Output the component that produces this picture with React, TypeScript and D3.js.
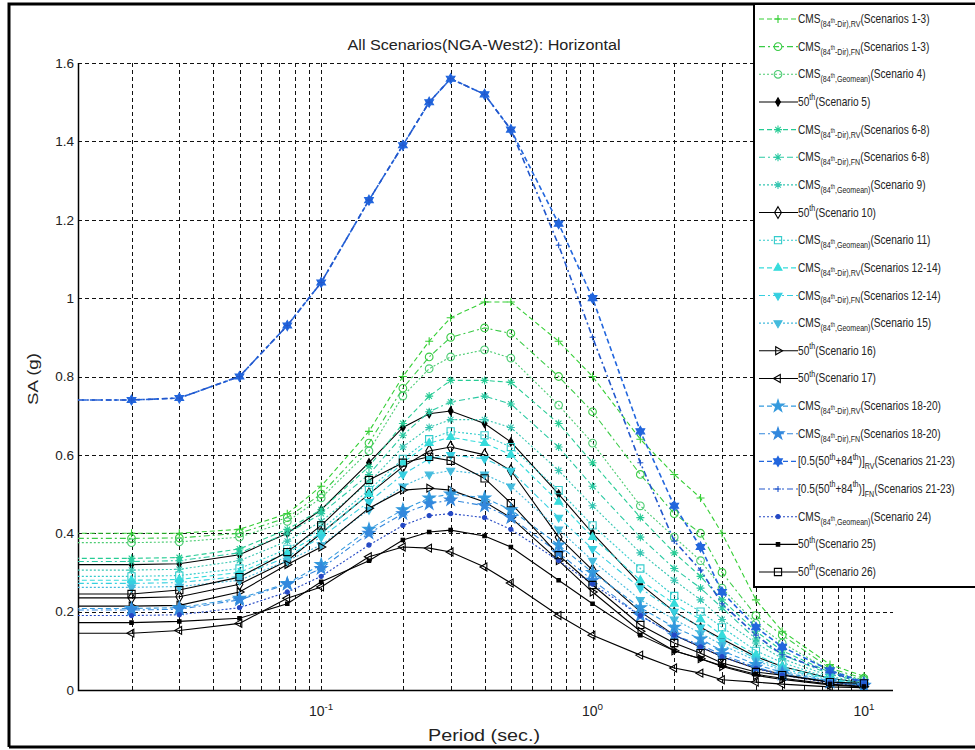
import React, { useEffect, useRef } from "react"
import * as d3 from "d3"

// spectral periods (sec.)
const periods = [0.01, 0.02, 0.03, 0.05, 0.075, 0.1, 0.15, 0.2, 0.25, 0.3, 0.4, 0.5, 0.75, 1, 1.5, 2, 2.5, 3, 4, 5, 7.5, 10]

// SA (g) per scenario
const cmsRv13 = [0.40, 0.40, 0.40, 0.41, 0.45, 0.52, 0.66, 0.80, 0.89, 0.95, 0.99, 0.99, 0.89, 0.80, 0.64, 0.55, 0.49, 0.40, 0.23, 0.15, 0.065, 0.035]
const cmsFn13 = [0.387, 0.387, 0.388, 0.40, 0.44, 0.50, 0.63, 0.77, 0.85, 0.90, 0.924, 0.91, 0.80, 0.71, 0.55, 0.45, 0.40, 0.30, 0.19, 0.14, 0.055, 0.03]
const cmsGeo4 = [0.376, 0.376, 0.378, 0.39, 0.43, 0.49, 0.61, 0.75, 0.82, 0.85, 0.868, 0.847, 0.727, 0.63, 0.47, 0.39, 0.33, 0.26, 0.17, 0.12, 0.05, 0.025]
const med5 = [0.32, 0.32, 0.322, 0.345, 0.40, 0.46, 0.58, 0.67, 0.705, 0.712, 0.68, 0.633, 0.50, 0.40, 0.27, 0.20, 0.16, 0.13, 0.085, 0.06, 0.03, 0.018]
const cmsRv68 = [0.336, 0.336, 0.338, 0.36, 0.41, 0.46, 0.57, 0.68, 0.75, 0.79, 0.79, 0.785, 0.68, 0.58, 0.44, 0.35, 0.29, 0.23, 0.15, 0.10, 0.045, 0.022]
const cmsFn68 = [0.328, 0.328, 0.33, 0.35, 0.40, 0.45, 0.55, 0.65, 0.71, 0.735, 0.75, 0.73, 0.62, 0.52, 0.39, 0.31, 0.26, 0.21, 0.13, 0.09, 0.04, 0.02]
const cmsGeo9 = [0.306, 0.306, 0.308, 0.33, 0.38, 0.43, 0.53, 0.62, 0.67, 0.69, 0.69, 0.67, 0.56, 0.47, 0.35, 0.28, 0.23, 0.18, 0.12, 0.08, 0.035, 0.018]
const med10 = [0.235, 0.235, 0.238, 0.27, 0.33, 0.40, 0.50, 0.57, 0.61, 0.62, 0.60, 0.56, 0.39, 0.306, 0.20, 0.14, 0.11, 0.085, 0.055, 0.04, 0.02, 0.012]
const cmsGeo11 = [0.29, 0.29, 0.292, 0.31, 0.36, 0.41, 0.51, 0.59, 0.64, 0.66, 0.65, 0.62, 0.51, 0.42, 0.31, 0.24, 0.20, 0.16, 0.10, 0.07, 0.03, 0.016]
const cmsRv1214 = [0.28, 0.28, 0.282, 0.30, 0.35, 0.40, 0.50, 0.58, 0.63, 0.645, 0.63, 0.60, 0.48, 0.39, 0.28, 0.22, 0.18, 0.14, 0.09, 0.06, 0.028, 0.015]
const cmsFn1214 = [0.272, 0.272, 0.274, 0.29, 0.34, 0.39, 0.48, 0.55, 0.59, 0.60, 0.59, 0.56, 0.44, 0.36, 0.26, 0.20, 0.16, 0.125, 0.08, 0.055, 0.025, 0.014]
const cmsGeo15 = [0.262, 0.262, 0.264, 0.28, 0.33, 0.37, 0.46, 0.52, 0.55, 0.56, 0.55, 0.52, 0.41, 0.33, 0.23, 0.18, 0.145, 0.115, 0.075, 0.05, 0.023, 0.013]
const med16 = [0.214, 0.214, 0.216, 0.25, 0.32, 0.365, 0.464, 0.51, 0.515, 0.51, 0.48, 0.44, 0.33, 0.25, 0.15, 0.10, 0.08, 0.06, 0.037, 0.027, 0.013, 0.008]
const med17 = [0.145, 0.145, 0.152, 0.17, 0.234, 0.263, 0.34, 0.365, 0.362, 0.352, 0.314, 0.273, 0.19, 0.14, 0.089, 0.056, 0.043, 0.026, 0.02, 0.015, 0.008, 0.006]
const cmsRv1820 = [0.208, 0.208, 0.21, 0.234, 0.272, 0.32, 0.41, 0.46, 0.49, 0.50, 0.49, 0.46, 0.37, 0.30, 0.21, 0.16, 0.13, 0.10, 0.065, 0.045, 0.022, 0.012]
const cmsFn1820 = [0.204, 0.204, 0.206, 0.23, 0.27, 0.31, 0.40, 0.45, 0.475, 0.485, 0.47, 0.44, 0.35, 0.28, 0.19, 0.14, 0.115, 0.09, 0.058, 0.04, 0.02, 0.011]
const avgRv2123 = [0.74, 0.74, 0.745, 0.80, 0.93, 1.04, 1.25, 1.39, 1.50, 1.56, 1.52, 1.43, 1.19, 1.0, 0.66, 0.47, 0.365, 0.25, 0.16, 0.11, 0.05, 0.02]
const avgFn2123 = [0.74, 0.74, 0.745, 0.80, 0.93, 1.04, 1.25, 1.39, 1.50, 1.56, 1.52, 1.43, 1.135, 0.90, 0.58, 0.38, 0.306, 0.22, 0.14, 0.09, 0.045, 0.018]
const cmsGeo24 = [0.19, 0.19, 0.192, 0.21, 0.25, 0.29, 0.37, 0.42, 0.445, 0.45, 0.44, 0.41, 0.33, 0.27, 0.19, 0.14, 0.11, 0.085, 0.055, 0.038, 0.018, 0.01]
const med25 = [0.172, 0.172, 0.175, 0.183, 0.22, 0.276, 0.33, 0.383, 0.403, 0.408, 0.393, 0.365, 0.28, 0.22, 0.14, 0.10, 0.08, 0.062, 0.04, 0.03, 0.015, 0.009]
const med26 = [0.245, 0.245, 0.255, 0.288, 0.352, 0.42, 0.536, 0.58, 0.595, 0.585, 0.54, 0.477, 0.344, 0.268, 0.166, 0.12, 0.094, 0.069, 0.046, 0.038, 0.02, 0.017]

const seriesValues = [
  cmsRv13, cmsFn13, cmsGeo4, med5, cmsRv68, cmsFn68, cmsGeo9, med10, cmsGeo11, cmsRv1214, cmsFn1214,
  cmsGeo15, med16, med17, cmsRv1820, cmsFn1820, avgRv2123, avgFn2123, cmsGeo24, med25, med26,
]

// legend labels, TeX style like the MATLAB legend
const legendLabels = [
  "CMS_{(84^{th}-Dir),RV}(Scenarios 1-3)",
  "CMS_{(84^{th}-Dir),FN}(Scenarios 1-3)",
  "CMS_{(84^{th},Geomean)}(Scenario 4)",
  "50^{th}(Scenario 5)",
  "CMS_{(84^{th}-Dir),RV}(Scenarios 6-8)",
  "CMS_{(84^{th}-Dir),FN}(Scenarios 6-8)",
  "CMS_{(84^{th},Geomean)}(Scenario 9)",
  "50^{th}(Scenario 10)",
  "CMS_{(84^{th},Geomean)}(Scenario 11)",
  "CMS_{(84^{th}-Dir),RV}(Scenarios 12-14)",
  "CMS_{(84^{th}-Dir),FN}(Scenarios 12-14)",
  "CMS_{(84^{th},Geomean)}(Scenario 15)",
  "50^{th}(Scenario 16)",
  "50^{th}(Scenario 17)",
  "CMS_{(84^{th}-Dir),RV}(Scenarios 18-20)",
  "CMS_{(84^{th}-Dir),FN}(Scenarios 18-20)",
  "[0.5(50^{th}+84^{th})]_{RV}(Scenarios 21-23)",
  "[0.5(50^{th}+84^{th})]_{FN}(Scenarios 21-23)",
  "CMS_{(84^{th},Geomean)}(Scenario 24)",
  "50^{th}(Scenario 25)",
  "50^{th}(Scenario 26)",
]

const yTicks = [0, 0.2, 0.4, 0.6, 0.8, 1, 1.2, 1.4, 1.6]
const xTicks = [0.1, 1, 10]
const xTickLabels = ["10^{-1}", "10^{0}", "10^{1}"]

const DASH = "5,3"
const DASHDOT = "6,3,2,3"
const DOT = "2,2"

const styles = [
  { color: "#35cf35", dash: DASH, marker: "+", fill: false },
  { color: "#3acb46", dash: DASHDOT, marker: "o", fill: false },
  { color: "#4ccc72", dash: DOT, marker: "o", fill: false },
  { color: "#000", dash: null, marker: "dd", fill: true },
  { color: "#26cc94", dash: DASH, marker: "*", fill: false },
  { color: "#2ac9a2", dash: DASHDOT, marker: "*", fill: false },
  { color: "#36c6b2", dash: DOT, marker: "*", fill: false },
  { color: "#000", dash: null, marker: "d", fill: false },
  { color: "#33cccc", dash: DOT, marker: "s", fill: false },
  { color: "#36dcdc", dash: DASH, marker: "^", fill: true },
  { color: "#36cfe0", dash: DASHDOT, marker: "v", fill: true },
  { color: "#44bbdd", dash: DOT, marker: "v", fill: true },
  { color: "#000", dash: null, marker: ">", fill: false },
  { color: "#000", dash: null, marker: "<", fill: false },
  { color: "#3399dd", dash: DASH, marker: "p", fill: true },
  { color: "#3388dd", dash: DASHDOT, marker: "p", fill: true },
  { color: "#2266dd", dash: DASH, marker: "h", fill: true },
  { color: "#2257cc", dash: DASHDOT, marker: "+s", fill: false },
  { color: "#2448c4", dash: DOT, marker: ".", fill: true },
  { color: "#000", dash: null, marker: "ss", fill: true },
  { color: "#000", dash: null, marker: "s", fill: false },
]

function markerPath(m: string): string {
  const s = 4
  const tri = (a: number) => {
    const pts = [0, 120, 240].map(t => {
      const r = ((t + a) * Math.PI) / 180
      return [Math.sin(r) * 4.6, -Math.cos(r) * 4.6]
    })
    return `M${pts.map(p => p.join(",")).join("L")}Z`
  }
  switch (m) {
    case "+":
      return `M${-s},0H${s}M0,${-s}V${s}`
    case "+s":
      return `M-3,0H3M0,-3V3`
    case "*": {
      const d = s * 0.7
      return `M${-s},0H${s}M0,${-s}V${s}M${-d},${-d}L${d},${d}M${-d},${d}L${d},${-d}`
    }
    case "o":
      return d3.symbol(d3.symbolCircle, 46)() as string
    case ".":
      return d3.symbol(d3.symbolCircle, 14)() as string
    case "dd":
      return d3.symbol(d3.symbolDiamond, 20)() as string
    case "ss":
      return d3.symbol(d3.symbolSquare, 12)() as string
    case "s":
      return d3.symbol(d3.symbolSquare, 52)() as string
    case "d":
      return d3.symbol(d3.symbolDiamond, 40)() as string
    case "^":
      return tri(0)
    case ">":
      return tri(90)
    case "v":
      return tri(180)
    case "<":
      return tri(270)
    case "p":
      return d3.symbol(d3.symbolStar, 45)() as string
    case "h": {
      const pts: string[] = []
      for (let i = 0; i < 12; i++) {
        const r = i % 2 === 0 ? 5 : 5 / Math.sqrt(3)
        const a = (i * 30 * Math.PI) / 180
        pts.push(`${Math.sin(a) * r},${-Math.cos(a) * r}`)
      }
      return `M${pts.join("L")}Z`
    }
    default:
      return ""
  }
}

// split a TeX-like string into tspans with sub/superscript shifts
function parseTex(str: string, size: number) {
  const out: { text: string; shift: number; size: number }[] = []
  const walk = (s: string, shift: number, sz: number) => {
    let buf = ""
    let i = 0
    const flush = () => {
      if (buf) out.push({ text: buf, shift, size: sz })
      buf = ""
    }
    while (i < s.length) {
      const c = s[i]
      if ((c === "_" || c === "^") && s[i + 1] === "{") {
        flush()
        let depth = 1
        let j = i + 2
        while (j < s.length && depth > 0) {
          if (s[j] === "{") depth++
          else if (s[j] === "}") depth--
          j++
        }
        walk(s.slice(i + 2, j - 1), shift + (c === "_" ? sz * 0.3 : -sz * 0.45), sz * 0.7)
        i = j
      } else {
        buf += c
        i++
      }
    }
    flush()
  }
  walk(str, 0, size)
  return out
}

function texText(sel: any, str: string, size: number) {
  let prev = 0
  parseTex(str, size).forEach(seg => {
    sel
      .append("tspan")
      .attr("dy", seg.shift - prev)
      .attr("font-size", seg.size)
      .text(seg.text)
    prev = seg.shift
  })
  return sel
}

const W = 975
const H = 750
const margin = { left: 78, right: 893, top: 63, bottom: 690 }

function App() {
  const ref = useRef<SVGSVGElement>(null)

  useEffect(() => {
    const svg = d3.select(ref.current)
    svg.selectAll("*").remove()

    const x = d3.scaleLog().domain([0.0127, 12.8]).range([margin.left, margin.right])
    const y = d3.scaleLinear().domain([0, 1.6]).range([margin.bottom, margin.top])

    svg.append("rect").attr("width", W).attr("height", H).attr("fill", "#fff")

    // outer frame of the figure
    svg
      .append("path")
      .attr("d", `M9,${H - 3}V4H${W}M9,${H - 3}H${W}`)
      .attr("fill", "none")
      .attr("stroke", "#000")
      .attr("stroke-width", 3)

    svg
      .append("defs")
      .append("clipPath")
      .attr("id", "plot-clip")
      .append("rect")
      .attr("x", margin.left)
      .attr("y", margin.top - 10)
      .attr("width", margin.right - margin.left + 10)
      .attr("height", margin.bottom - margin.top + 10)

    // grid
    const grid = svg
      .append("g")
      .attr("stroke", "#111")
      .attr("stroke-width", 1)
      .attr("stroke-dasharray", "4,3")
    yTicks
      .filter(t => t > 0)
      .forEach(t => {
        grid
          .append("line")
          .attr("x1", margin.left)
          .attr("x2", margin.right)
          .attr("y1", Math.round(y(t)) + 0.5)
          .attr("y2", Math.round(y(t)) + 0.5)
      })
    x.ticks()
      .filter(t => t > x.domain()[0] && t < x.domain()[1])
      .forEach(t => {
        grid
          .append("line")
          .attr("x1", Math.round(x(t)) + 0.5)
          .attr("x2", Math.round(x(t)) + 0.5)
          .attr("y1", margin.top)
          .attr("y2", margin.bottom)
      })

    // axes
    svg
      .append("path")
      .attr("d", `M${margin.left + 0.5},${margin.top}V${margin.bottom + 0.5}H${margin.right}`)
      .attr("fill", "none")
      .attr("stroke", "#000")
      .attr("stroke-width", 1.5)

    yTicks.forEach(t => {
      svg
        .append("text")
        .attr("x", margin.left - 4)
        .attr("y", y(t))
        .attr("dy", "0.36em")
        .attr("text-anchor", "end")
        .attr("font-family", "Liberation Sans, Arial, sans-serif")
        .attr("font-size", 13.5)
        .attr("fill", "#222")
        .text(d3.format("~g")(t))
    })

    xTicks.forEach((t, i) => {
      const tx = svg
        .append("text")
        .attr("x", x(t))
        .attr("y", 716)
        .attr("text-anchor", "middle")
        .attr("font-family", "Liberation Sans, Arial, sans-serif")
        .attr("fill", "#222")
      texText(tx, xTickLabels[i], 14)
    })

    // series
    const lineGen = d3
      .line<number>()
      .x((d, i) => x(periods[i]))
      .y(d => y(d))

    const plot = svg.append("g").attr("clip-path", "url(#plot-clip)")
    seriesValues.forEach((vals, k) => {
      const st = styles[k]
      const wide = k === 16 || k === 17
      plot
        .append("path")
        .attr("d", lineGen(vals))
        .attr("fill", "none")
        .attr("stroke", st.color)
        .attr("stroke-width", wide ? 1.6 : 1.1)
        .attr("stroke-dasharray", st.dash)
    })
    seriesValues.forEach((vals, k) => {
      const st = styles[k]
      const d = markerPath(st.marker)
      vals.forEach((v, i) => {
        if (periods[i] < x.domain()[0]) return
        plot
          .append("path")
          .attr("d", d)
          .attr("transform", `translate(${x(periods[i])},${y(v)})`)
          .attr("fill", st.fill ? st.color : "none")
          .attr("stroke", st.color)
          .attr("stroke-width", 1.1)
      })
    })

    // title and axis labels
    svg
      .append("text")
      .attr("x", 484)
      .attr("y", 50)
      .attr("text-anchor", "middle")
      .attr("font-family", "Liberation Sans, Arial, sans-serif")
      .attr("font-size", 14)
      .attr("fill", "#222")
      .attr("textLength", 273)
      .attr("lengthAdjust", "spacingAndGlyphs")
      .text("All Scenarios(NGA-West2): Horizontal")

    svg
      .append("text")
      .attr("x", 484)
      .attr("y", 741)
      .attr("text-anchor", "middle")
      .attr("font-family", "Liberation Sans, Arial, sans-serif")
      .attr("font-size", 16)
      .attr("fill", "#222")
      .attr("textLength", 112)
      .attr("lengthAdjust", "spacingAndGlyphs")
      .text("Period (sec.)")

    svg
      .append("text")
      .attr("transform", `translate(38,379) rotate(-90)`)
      .attr("text-anchor", "middle")
      .attr("font-family", "Liberation Sans, Arial, sans-serif")
      .attr("font-size", 15)
      .attr("fill", "#222")
      .attr("textLength", 52)
      .attr("lengthAdjust", "spacingAndGlyphs")
      .text("SA (g)")

    // legend
    const lg = svg.append("g")
    lg.append("rect")
      .attr("x", 754)
      .attr("y", 4)
      .attr("width", 240)
      .attr("height", 583)
      .attr("fill", "#fff")
      .attr("stroke", "#000")
      .attr("stroke-width", 2)

    legendLabels.forEach((label, k) => {
      const st = styles[k]
      const cy = 19 + k * 27.65
      lg.append("line")
        .attr("x1", 759)
        .attr("x2", 798)
        .attr("y1", cy)
        .attr("y2", cy)
        .attr("stroke", st.color)
        .attr("stroke-width", 1.1)
        .attr("stroke-dasharray", st.dash)
      lg.append("path")
        .attr("d", markerPath(st.marker))
        .attr("transform", `translate(778,${cy})`)
        .attr("fill", st.fill ? st.color : "none")
        .attr("stroke", st.color)
        .attr("stroke-width", 1.1)
      const t = lg
        .append("text")
        .attr("transform", `translate(798,${cy + 4}) scale(0.78,1)`)
        .attr("font-family", "Liberation Sans, Arial, sans-serif")
        .attr("fill", "#222")
      texText(t, label, 13)
    })
  }, [])

  return (
    <div style={{ position: "absolute", left: 0, top: 0 }}>
      <svg ref={ref} width={W} height={H} style={{ display: "block" }} />
    </div>
  )
}

export default App
